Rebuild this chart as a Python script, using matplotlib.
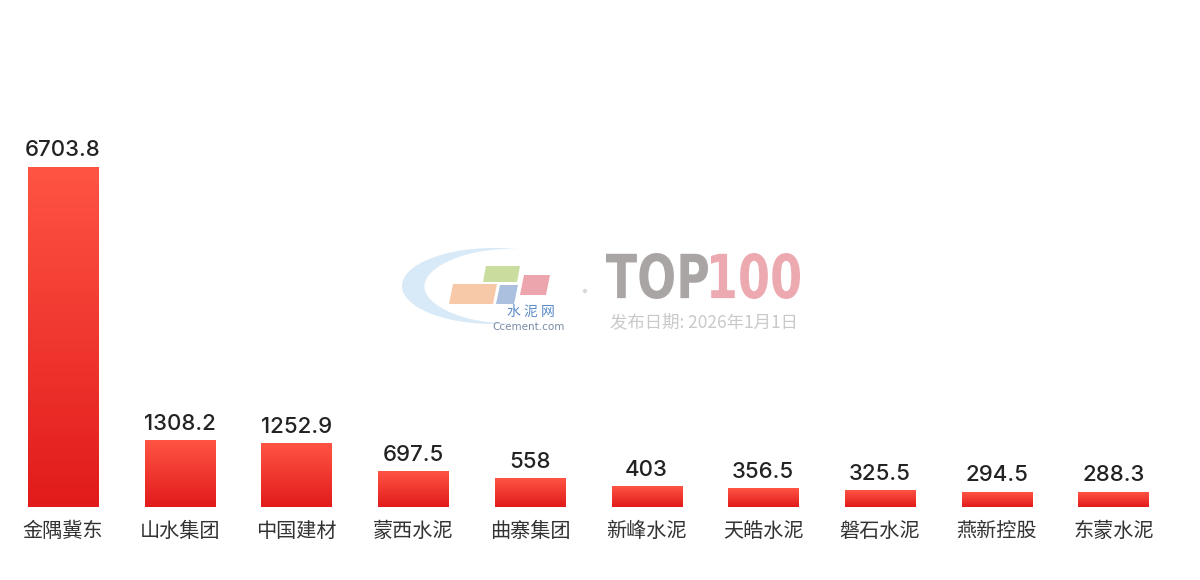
import numpy as np
import matplotlib
matplotlib.use("Agg")
import matplotlib.pyplot as plt
from matplotlib.colors import LinearSegmentedColormap
from matplotlib.patches import Polygon, PathPatch, Circle
from matplotlib.textpath import TextPath
from matplotlib.font_manager import FontProperties
from matplotlib.transforms import Affine2D

plt.rcParams['font.family'] = ['Noto Sans CJK SC', 'DejaVu Sans']

# data
companies = ["金隅冀东", "山水集团", "中国建材", "蒙西水泥", "曲寨集团",
             "新峰水泥", "天皓水泥", "磐石水泥", "燕新控股", "东蒙水泥"]
values = [6703.8, 1308.2, 1252.9, 697.5, 558, 403, 356.5, 325.5, 294.5, 288.3]

W, H = 1200, 580
fig = plt.figure(figsize=(W / 100, H / 100), dpi=100)
fig.patch.set_facecolor("white")

# main axes: zero line at y=507px, top at y=20px
top_px, base_px = 20, 507
ax = fig.add_axes([4.7 / W, (H - base_px) / H, 1167 / W, (base_px - top_px) / H])
ax.set_facecolor("none")
ymax = max(values) * (base_px - top_px) / 340.0

cmap = LinearSegmentedColormap.from_list("bar", ["#e11b1b", "#ff5444"])
grad = np.linspace(0, 1, 256).reshape(-1, 1)
bw = 0.3
for i, v in enumerate(values):
    ax.imshow(grad, cmap=cmap, origin="lower", aspect="auto",
              extent=[i - bw, i + bw, 0, v], interpolation="bicubic", zorder=2)
    ax.annotate(f"{v:g}", (i, v), xytext=(0, 5), textcoords="offset points",
                ha="center", va="bottom", fontsize=16, color="#222222",
                family=["Inter", "DejaVu Sans"], weight="medium", zorder=3)

ax.set_xlim(-0.5, len(values) - 0.5)
ax.set_ylim(0, ymax)
ax.set_xticks(range(len(companies)))
ax.set_xticklabels(companies, fontsize=14.5, color="#333333")
ax.tick_params(axis="x", length=0, pad=10)
ax.set_yticks([])
for s in ax.spines.values():
    s.set_visible(False)

# watermark overlay in pixel coordinates
wm = fig.add_axes([0, 0, 1, 1], zorder=-1)
wm.set_xlim(0, W)
wm.set_ylim(H, 0)
wm.axis("off")

# swoosh crescent
t = np.linspace(np.radians(72), np.radians(285), 120)
cx, cy, a, b = 494, 286, 92, 38
ox = cx + a * np.cos(t)
oy = cy - b * np.sin(t)
thick = 14 * np.sin((t - t[0]) / (t[-1] - t[0]) * np.pi) ** 1.5
ix = cx + (a - thick * 1.6) * np.cos(t)
iy = cy - (b - thick * 0.9) * np.sin(t)
wm.add_patch(Polygon(np.column_stack([np.r_[ox, ix[::-1]], np.r_[oy, iy[::-1]]]),
                     closed=True, fc="#d8e9f7", ec="none"))

def para(x0, x1, y0, y1, sk, col):
    wm.add_patch(Polygon([(x0 + sk, y0), (x1 + sk, y0), (x1, y1), (x0, y1)],
                         closed=True, fc=col, ec="none"))

para(483, 517, 266, 282, 3, "#c9dd9e")
para(449, 493, 284, 304, 4, "#f8c9a9")
para(496, 514, 285, 304, 4, "#abc0de")
para(520, 546, 275, 295, 4, "#eca4ad")

wm.text(531, 312, "水 泥 网", ha="center", va="center", fontsize=10, color="#5a8ac9")
wm.text(529, 327, "Ccement.com", ha="center", va="center", fontsize=7.5,
        color="#7a8ba6", family=["DejaVu Sans"])
wm.add_patch(Circle((585, 291), 2.2, fc="#d9d9d9", ec="none"))

# TOP100 logotype
fp = FontProperties(family="DejaVu Sans", weight="heavy")

def logo(txt, x0, x1, col):
    tp = TextPath((0, 0), txt, size=100, prop=fp)
    ext = tp.get_extents()
    sx = (x1 - x0) / ext.width
    sy = 46 / ext.height
    tr = Affine2D().translate(-ext.x0, -ext.y0).scale(sx, -sy).translate(x0, 299)
    wm.add_patch(PathPatch(tr.transform_path(tp), fc=col, ec="none"))

logo("TOP", 606, 708, "#a9a5a4")
logo("100", 711, 800, "#eca9af")

wm.text(704, 322, "发布日期: 2026年1月1日", ha="center", va="center",
        fontsize=12.5, color="#c9c9c9")

fig.savefig("out.png", dpi=100, facecolor="white")
